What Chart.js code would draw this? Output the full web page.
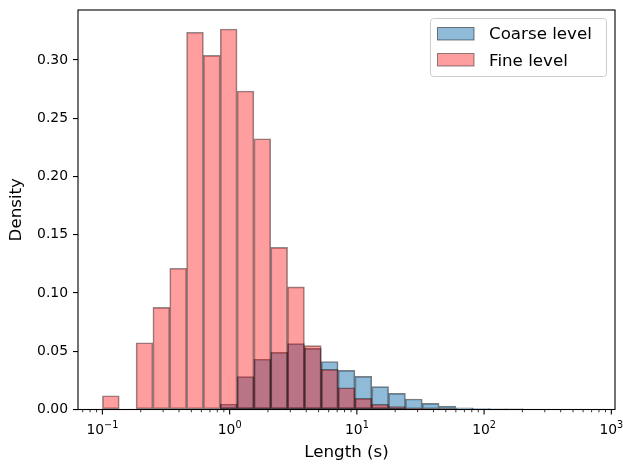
<!DOCTYPE html>
<html lang="en">
<head>
<meta charset="UTF-8">
<title>Length histogram</title>
<script src="https://cdn.jsdelivr.net/npm/chart.js"></script>
<style>
  body { margin: 0; background: #fff; }
</style>
</head>
<body>
<canvas id="myChart" width="623" height="464"></canvas>
<script>
// histogram bins: 29 log-spaced bins from 10^-1 to 10^2.837
var binMinExp = -1;
var binMaxExp = 2.837;
var binCount = 29;

// density per bin
var coarse = [0, 0, 0, 0, 0, 0, 0, 0.0047, 0.0282, 0.0431, 0.0491, 0.0565, 0.0525, 0.0412, 0.0336,
              0.0285, 0.0196, 0.0139, 0.0090, 0.0053, 0.0030, 0.0015, 0.0007, 0.0003, 0.0001, 0, 0, 0, 0];
var fine   = [0.0118, 0, 0.0573, 0.0877, 0.1212, 0.3238, 0.3040, 0.3266, 0.2734, 0.2324, 0.1392, 0.1052, 0.0548, 0.0345, 0.0187,
              0.0096, 0.0045, 0.0024, 0.0007, 0.0003, 0, 0, 0, 0, 0, 0, 0, 0, 0];

var seriesNames = ['Coarse level', 'Fine level'];
var xTickExps = [-1, 0, 1, 2, 3];
var yStep = 0.05;

var coarseFill = 'rgba(31,119,180,0.5)', coarseEdge = 'rgba(0,0,0,0.5)';
var fineFill = 'rgba(255,0,0,0.38)', fineEdge = 'rgba(0,0,0,0.45)';

var binW = (binMaxExp - binMinExp) / binCount;
function toPoints(vals) {
    var pts = [];
    for (let i = 0; i < vals.length; i++) {
        if (vals[i] > 0) pts.push({ x: Math.pow(10, binMinExp + (i + 0.5) * binW), y: vals[i] });
    }
    return pts;
}

var margin = (binMaxExp - binMinExp) * 0.05;
var xMin = Math.pow(10, binMinExp - margin);
var xMax = Math.pow(10, binMaxExp + margin);

var font = 'DejaVu Sans';
var sup = { '-': '\u2212' };

var framePlugin = {
    id: 'frame',
    afterDraw: function(chart) {
        var ctx = chart.ctx, a = chart.chartArea, xs = chart.scales.x;
        ctx.save();
        ctx.strokeStyle = '#000';
        // x ticks, major and minor
        for (let e = -2; e <= 3; e++) {
            for (let m = 1; m <= 9; m++) {
                var v = m * Math.pow(10, e);
                if (v < xMin || v > xMax) continue;
                var px = xs.getPixelForValue(v);
                ctx.lineWidth = m == 1 ? 1.1 : 0.8;
                ctx.beginPath();
                ctx.moveTo(px, a.bottom);
                ctx.lineTo(px, a.bottom + (m == 1 ? 4.9 : 2.8));
                ctx.stroke();
            }
        }
        // x tick labels 10^n
        ctx.fillStyle = '#000';
        ctx.textBaseline = 'alphabetic';
        ctx.textAlign = 'left';
        xTickExps.forEach(function(e) {
            var px = xs.getPixelForValue(Math.pow(10, e));
            var ex = String(e).replace('-', sup['-']);
            ctx.font = '13.9px "' + font + '"';
            var w1 = ctx.measureText('10').width;
            ctx.font = '9.7px "' + font + '"';
            var w2 = ctx.measureText(ex).width;
            var x0 = px - (w1 + w2) / 2;
            ctx.font = '13.9px "' + font + '"';
            ctx.fillText('10', x0, a.bottom + 24);
            ctx.font = '9.7px "' + font + '"';
            ctx.fillText(ex, x0 + w1, a.bottom + 18.5);
        });
        // box
        ctx.lineWidth = 1.1;
        ctx.strokeRect(a.left, a.top, a.right - a.left, a.bottom - a.top);

        // legend
        var lx = 430.5, ly = 18.5, lw = 176, lh = 58, r = 3;
        ctx.beginPath();
        ctx.moveTo(lx + r, ly);
        ctx.arcTo(lx + lw, ly, lx + lw, ly + lh, r);
        ctx.arcTo(lx + lw, ly + lh, lx, ly + lh, r);
        ctx.arcTo(lx, ly + lh, lx, ly, r);
        ctx.arcTo(lx, ly, lx + lw, ly, r);
        ctx.closePath();
        ctx.fillStyle = 'rgba(255,255,255,0.8)';
        ctx.fill();
        ctx.strokeStyle = '#cccccc';
        ctx.lineWidth = 1;
        ctx.stroke();
        var items = [[coarseFill, coarseEdge, 27.5, 39.3], [fineFill, fineEdge, 53.5, 65.7]];
        ctx.font = '16.7px "' + font + '"';
        items.forEach(function(it, i) {
            ctx.fillStyle = '#fff';
            ctx.fillRect(437.5, it[2], 36.5, 12.5);
            ctx.fillStyle = it[0];
            ctx.fillRect(437.5, it[2], 36.5, 12.5);
            ctx.strokeStyle = it[1];
            ctx.lineWidth = 1;
            ctx.strokeRect(437.5, it[2], 36.5, 12.5);
            ctx.fillStyle = '#000';
            ctx.fillText(seriesNames[i], 489, it[3]);
        });
        ctx.restore();
    }
};

var grafico = document.getElementById('myChart').getContext('2d');
var myChart = new Chart(grafico, {
    type: 'bar',
    data: {
        datasets: [{
            label: seriesNames[0],
            data: toPoints(coarse),
            backgroundColor: coarseFill,
            borderColor: coarseEdge,
            borderWidth: 1,
            borderSkipped: false,
            grouped: false,
            barPercentage: 1,
            categoryPercentage: 1,
            order: 2
        }, {
            label: seriesNames[1],
            data: toPoints(fine),
            backgroundColor: fineFill,
            borderColor: fineEdge,
            borderWidth: 1,
            borderSkipped: false,
            grouped: false,
            barPercentage: 1,
            categoryPercentage: 1,
            order: 1
        }]
    },
    options: {
        responsive: false,
        animation: false,
        devicePixelRatio: 1,
        layout: { padding: { top: 10, right: 8, left: 0, bottom: 0 } },
        plugins: { legend: { display: false }, tooltip: { enabled: false } },
        scales: {
            x: {
                type: 'logarithmic',
                min: xMin,
                max: xMax,
                grid: { display: false },
                border: { display: false },
                ticks: { display: false },
                afterBuildTicks: function(scale) {
                    scale.ticks = xTickExps.map(function(e) { return { value: Math.pow(10, e) }; });
                },
                afterFit: function(scale) {
                    scale.height = 54.5;
                    scale.paddingLeft = 0; scale.paddingRight = 0;
                },
                title: {
                    display: true,
                    text: 'Length (s)',
                    color: '#000',
                    font: { family: font, size: 16.7 },
                    padding: { top: 0, bottom: 1.5 }
                }
            },
            y: {
                min: 0,
                max: 0.3429,
                grid: { display: true, drawOnChartArea: false, drawTicks: true, tickLength: 5, color: '#000', lineWidth: 1.1 },
                border: { display: false },
                ticks: {
                    stepSize: yStep,
                    includeBounds: false,
                    padding: 5,
                    color: '#000',
                    font: { family: font, size: 13.9 },
                    callback: function(v) { return v.toFixed(2); }
                },
                afterFit: function(scale) {
                    scale.width = 78;
                    scale.paddingTop = 0; scale.paddingBottom = 0;
                },
                title: {
                    display: true,
                    text: 'Density',
                    color: '#000',
                    font: { family: font, size: 16.7 },
                    padding: { top: 6.5, bottom: 0 }
                }
            }
        }
    },
    plugins: [framePlugin]
});
</script>
</body>
</html>
